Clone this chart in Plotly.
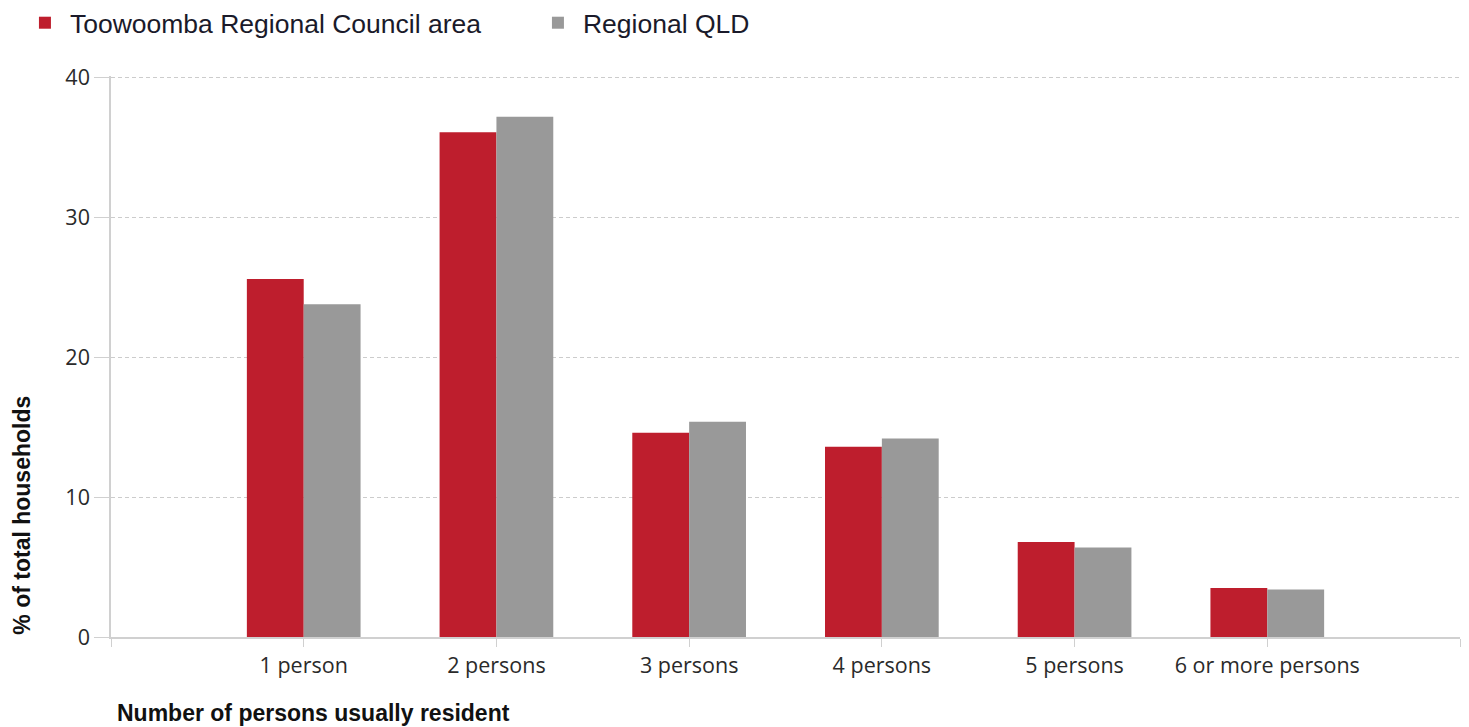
import plotly.graph_objects as go

categories = ["1 person", "2 persons", "3 persons", "4 persons", "5 persons", "6 or more persons"]
toowoomba = [25.6, 36.1, 14.6, 13.6, 6.8, 3.5]
regional_qld = [23.8, 37.2, 15.4, 14.2, 6.4, 3.4]
series_names = ["Toowoomba Regional Council area", "Regional QLD"]
y_ticks = [0, 10, 20, 30, 40]

x_pos = list(range(1, len(categories) + 1))
tick_vals = [0] + x_pos + [len(categories) + 1]
tick_text = [""] + categories + [""]

fig = go.Figure()
fig.add_trace(go.Bar(x=x_pos, y=toowoomba, name=series_names[0],
                     marker=dict(color="#BE1E2D", line=dict(width=0))))
fig.add_trace(go.Bar(x=x_pos, y=regional_qld, name=series_names[1],
                     marker=dict(color="#999999", line=dict(width=0))))

# page body has an 8px default margin, so the figure is sized/offset to compensate
fig.update_layout(
    width=1461, height=719,
    margin=dict(l=103, r=9, t=68, b=90, autoexpand=False),
    paper_bgcolor="white", plot_bgcolor="white",
    barmode="group", bargap=0.41, bargroupgap=0,
    font=dict(family="Liberation Sans, Arial, sans-serif", color="#222222"),
    showlegend=True,
    legend=dict(orientation="h", x=-0.0675, xanchor="left", y=1.0945, yanchor="middle",
                font=dict(size=26.5, family="Liberation Sans, Arial, sans-serif", color="#1a1a2a"),
                itemwidth=40, traceorder="normal", entrywidth=458, entrywidthmode="pixels"),
    xaxis=dict(range=[0, len(categories) + 1], tickmode="array", tickvals=tick_vals,
               ticktext=tick_text, showgrid=False, zeroline=False, automargin=False,
               showline=True, linecolor="#d0d0d0", linewidth=1.5,
               ticks="outside", ticklen=8, tickcolor="#d0d0d0", tickwidth=1,
               tickfont=dict(family="Open Sans, sans-serif", size=21.5, color="#2a2a2a")),
    yaxis=dict(range=[0, 40.12], tickmode="array", tickvals=y_ticks, automargin=False,
               showgrid=True, gridcolor="#cccccc", griddash="4px,3px", gridwidth=1,
               zeroline=False, showline=True, linecolor="#d0d0d0", linewidth=1.5,
               ticks="outside", ticklen=15, tickcolor="#d0d0d0", tickwidth=1,
               tickfont=dict(family="Open Sans, sans-serif", size=21.5, color="#2a2a2a")),
    annotations=[
        dict(text="<b>% of total households</b>", xref="paper", yref="paper",
             x=-0.066, y=0.218, xanchor="center", yanchor="middle", textangle=-90,
             showarrow=False, font=dict(size=23, color="#111111",
                                        family="Liberation Sans, Arial, sans-serif")),
        dict(text="<b>Number of persons usually resident</b>", xref="paper", yref="paper",
             x=0.003, y=-0.136, xanchor="left", yanchor="middle",
             showarrow=False, font=dict(size=23, color="#111111",
                                        family="Liberation Sans, Arial, sans-serif")),
    ],
)

fig.write_html("out.html")
